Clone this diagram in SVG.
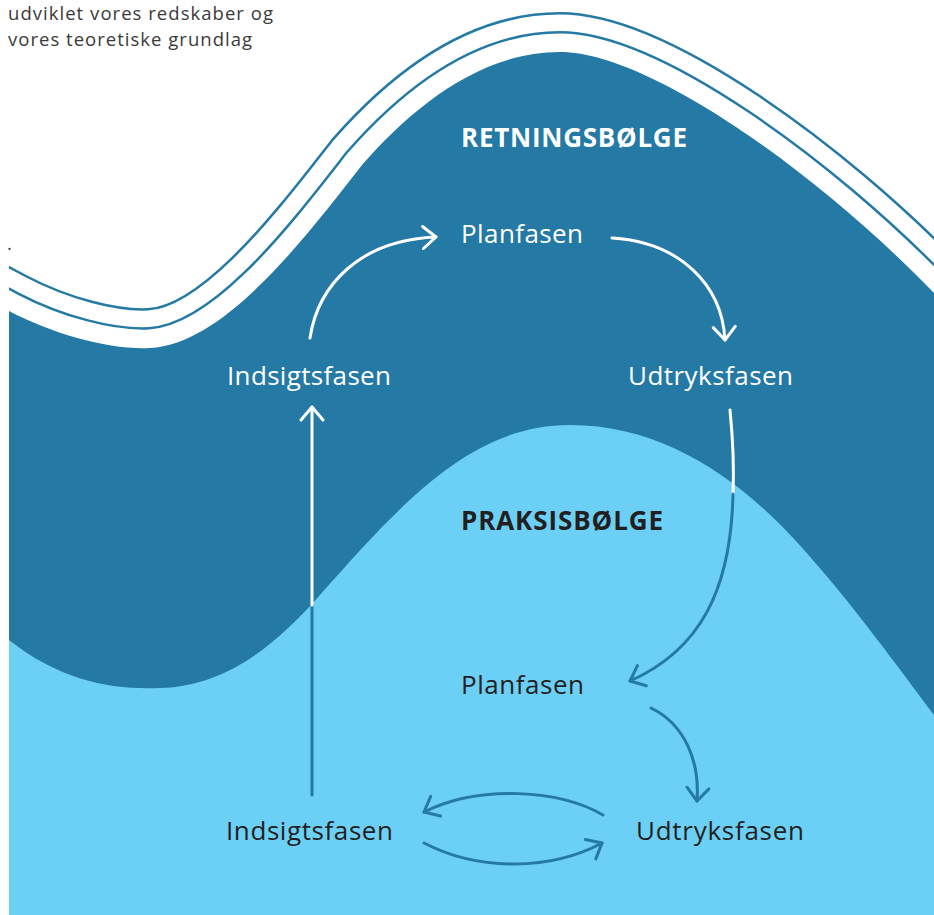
<svg xmlns="http://www.w3.org/2000/svg" width="934" height="915" viewBox="0 0 934 915">
  <style>
    .lbl { font-family: "Open Sans", "Liberation Sans", sans-serif; font-size: 26px; font-weight: 400; }
    .ttl { font-family: "Open Sans", "Liberation Sans", sans-serif; font-size: 26px; font-weight: 700; }
    .note { font-family: "Open Sans", "Liberation Sans", sans-serif; font-size: 18.5px; fill: #3a3a3a; }
    .onDark { fill: #ffffff; }
    .onLight { fill: #231f20; }
    .cw { fill: none; stroke: #ffffff; stroke-width: 3; stroke-linecap: round; }
    .cb { fill: none; stroke: #2479a5; stroke-width: 3; stroke-linecap: round; }
  </style>
  <defs>
    <marker id="headW" markerUnits="userSpaceOnUse" viewBox="-16 -16 32 32" markerWidth="32" markerHeight="32" refX="0" refY="0" orient="auto" overflow="visible">
      <path d="M-13,-11 L0,0 L-13,11" fill="none" stroke="#ffffff" stroke-width="3" stroke-linecap="round" stroke-linejoin="round"/>
    </marker>
    <marker id="headB" markerUnits="userSpaceOnUse" viewBox="-16 -16 32 32" markerWidth="32" markerHeight="32" refX="0" refY="0" orient="auto" overflow="visible">
      <path d="M-13,-11 L0,0 L-13,11" fill="none" stroke="#2479a5" stroke-width="3" stroke-linecap="round" stroke-linejoin="round"/>
    </marker>
    <clipPath id="page">
      <rect x="9" y="0" width="925" height="915"/>
    </clipPath>
    <!-- upper edge of the direction wave -->
    <path id="crest" d="M-40,285 L9,311 C55,335 110,350 150,348 C225,344 305,238 362,165 C412,108 480,52 560,52 C650,52 820,175 934,293 L990,345"/>
  </defs>

  <rect width="934" height="915" fill="#ffffff"/>

  <!-- intro text -->
  <text class="note" x="8" y="20" textLength="265">udviklet vores redskaber og</text>
  <text class="note" x="8" y="46" textLength="244">vores teoretiske grundlag</text>
  <text class="note" x="7" y="250">.</text>

  <!-- wave outlines: layered strokes along the crest -->
  <g id="wave-lines" clip-path="url(#page)">
    <use href="#crest" fill="none" stroke="#2479a5" stroke-width="80"/>
    <use href="#crest" fill="none" stroke="#ffffff" stroke-width="75"/>
    <use href="#crest" fill="none" stroke="#2479a5" stroke-width="42"/>
    <use href="#crest" fill="none" stroke="#ffffff" stroke-width="37"/>
  </g>

  <!-- direction wave -->
  <g id="retningsbolge">
    <path d="M9,311 C55,335 110,350 150,348 C225,344 305,238 362,165 C412,108 480,52 560,52 C650,52 820,175 934,293 L934,915 L9,915 Z" fill="#2479a5"/>
  </g>

  <!-- practice wave -->
  <g id="praksisbolge">
    <path d="M9,640 C60,680 110,690 160,688 C230,686 280,640 320,595 C400,505 470,425 570,425 C660,425 735,475 795,540 C850,600 900,670 934,715 L934,915 L9,915 Z" fill="#6ccff5"/>
  </g>

  <!-- connectors -->
  <g id="connectors">
    <path class="cw" d="M310,338 C318,285 360,240 436,237" marker-end="url(#headW)"/>
    <path class="cw" d="M612,238 C680,242 722,285 725,340" marker-end="url(#headW)"/>
    <path class="cw" d="M730,410 C733,440 734,470 733,494"/>
    <path class="cb" d="M733,494 C731,590 700,650 630,681" marker-end="url(#headB)"/>
    <path class="cb" d="M312,795 L312,605"/>
    <path class="cw" d="M312,605 L312,407" marker-end="url(#headW)"/>
    <path class="cb" d="M651,708 C684,724 700,760 697,801" marker-end="url(#headB)"/>
    <path class="cb" d="M603,815 C560,790 480,784 424,812" marker-end="url(#headB)"/>
    <path class="cb" d="M424,843 C480,872 552,870 602,843" marker-end="url(#headB)"/>
  </g>

  <!-- titles -->
  <g id="title-retning"><text class="ttl onDark" x="461" y="147" textLength="226">RETNINGSBØLGE</text></g>
  <g id="title-praksis"><text class="ttl onLight" x="461" y="530" textLength="202">PRAKSISBØLGE</text></g>

  <!-- phases, direction wave -->
  <g id="r-planfasen"><text class="lbl onDark" x="461" y="243" textLength="122">Planfasen</text></g>
  <g id="r-indsigtsfasen"><text class="lbl onDark" x="227" y="385" textLength="164">Indsigtsfasen</text></g>
  <g id="r-udtryksfasen"><text class="lbl onDark" x="628" y="385" textLength="165">Udtryksfasen</text></g>

  <!-- phases, practice wave -->
  <g id="p-planfasen"><text class="lbl onLight" x="461" y="694" textLength="123">Planfasen</text></g>
  <g id="p-indsigtsfasen"><text class="lbl onLight" x="226" y="840" textLength="167">Indsigtsfasen</text></g>
  <g id="p-udtryksfasen"><text class="lbl onLight" x="636" y="840" textLength="168">Udtryksfasen</text></g>
</svg>
